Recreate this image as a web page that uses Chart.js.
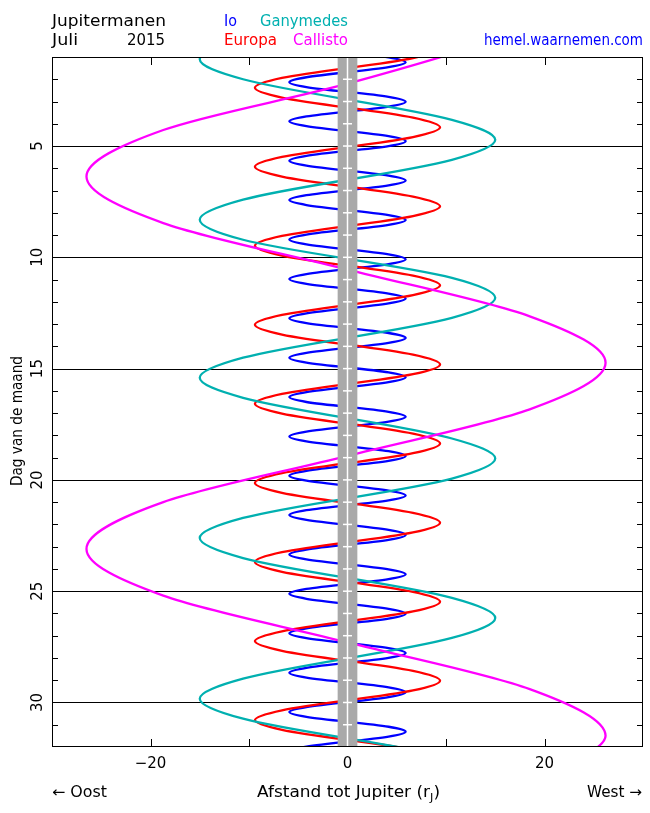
<!DOCTYPE html>
<html>
<head>
<meta charset="utf-8">
<script src="https://cdn.jsdelivr.net/npm/chart.js@4.4.1/dist/chart.umd.min.js"></script>
<style>html,body{margin:0;padding:0;background:#fff}canvas{display:block}</style>
</head>
<body>
<canvas id="c" width="650" height="813"></canvas>
<script>
// ---- axis ranges & tick labels ----
const xRange = [-30, 30];
const dayRange = [1, 32];
const xTicks = [-20, -10, 0, 10, 20];
const xTickLabels = [-20, 0, 20];
const dayTickLabels = [5, 10, 15, 20, 25, 30];
const jupiterDisk = [-1, 1];

// ---- moon positions (day of month, distance in r_J) ----
const ioDays = [0.14, 0.36, 0.58, 1.02, 1.24, 1.46, 1.91, 2.13, 2.35, 2.79, 3.01, 3.23, 3.67, 3.89, 4.11, 4.56, 4.78, 5.00, 5.44, 5.66, 5.88, 6.33, 6.55, 6.77, 7.21, 7.43, 7.65, 8.10, 8.32, 8.54, 8.98, 9.20, 9.42, 9.87, 10.09, 10.31, 10.75, 10.97, 11.19, 11.63, 11.85, 12.07, 12.52, 12.74, 12.96, 13.40, 13.62, 13.84, 14.29, 14.51, 14.73, 15.17, 15.39, 15.61, 16.06, 16.28, 16.50, 16.94, 17.16, 17.38, 17.83, 18.05, 18.27, 18.71, 18.93, 19.15, 19.59, 19.81, 20.03, 20.48, 20.70, 20.92, 21.36, 21.58, 21.80, 22.25, 22.47, 22.69, 23.13, 23.35, 23.57, 24.02, 24.24, 24.46, 24.90, 25.12, 25.34, 25.79, 26.01, 26.23, 26.67, 26.89, 27.11, 27.56, 27.78, 28.00, 28.44, 28.66, 28.88, 29.32, 29.54, 29.76, 30.21, 30.43, 30.65, 31.09, 31.31, 31.53, 31.98, 32.20, 32.42];
const ioPos = [
 -4.17, -5.9, -4.17, 4.17, 5.9, 4.17,
 -4.17, -5.9, -4.17, 4.17, 5.9, 4.17,
 -4.17, -5.9, -4.17, 4.17, 5.9, 4.17,
 -4.17, -5.9, -4.17, 4.17, 5.9, 4.17,
 -4.17, -5.9, -4.17, 4.17, 5.9, 4.17,
 -4.17, -5.9, -4.17, 4.17, 5.9, 4.17,
 -4.17, -5.9, -4.17, 4.17, 5.9, 4.17,
 -4.17, -5.9, -4.17, 4.17, 5.9, 4.17,
 -4.17, -5.9, -4.17, 4.17, 5.9, 4.17,
 -4.17, -5.9, -4.17, 4.17, 5.9, 4.17,
 -4.17, -5.9, -4.17, 4.17, 5.9, 4.17,
 -4.17, -5.9, -4.17, 4.17, 5.9, 4.17,
 -4.17, -5.9, -4.17, 4.17, 5.9, 4.17,
 -4.17, -5.9, -4.17, 4.17, 5.9, 4.17,
 -4.17, -5.9, -4.17, 4.17, 5.9, 4.17,
 -4.17, -5.9, -4.17, 4.17, 5.9, 4.17,
 -4.17, -5.9, -4.17, 4.17, 5.9, 4.17,
 -4.17, -5.9, -4.17, 4.17, 5.9, 4.17,
 -4.17, -5.9, -4.17];

const europaDays = [0.61, 1.05, 1.94, 2.38, 2.82, 3.72, 4.16, 4.60, 5.49, 5.93, 6.37, 7.27, 7.71, 8.15, 9.04, 9.48, 9.92, 10.82, 11.26, 11.70, 12.59, 13.03, 13.47, 14.37, 14.81, 15.25, 16.14, 16.58, 17.02, 17.92, 18.36, 18.80, 19.70, 20.14, 20.58, 21.48, 21.92, 22.36, 23.25, 23.69, 24.13, 25.03, 25.47, 25.91, 26.80, 27.24, 27.68, 28.58, 29.02, 29.46, 30.35, 30.79, 31.23, 32.13, 32.57];
const europaPos = [9.4, 6.65,
 -6.65, -9.4, -6.65, 6.65, 9.4, 6.65,
 -6.65, -9.4, -6.65, 6.65, 9.4, 6.65,
 -6.65, -9.4, -6.65, 6.65, 9.4, 6.65,
 -6.65, -9.4, -6.65, 6.65, 9.4, 6.65,
 -6.65, -9.4, -6.65, 6.65, 9.4, 6.65,
 -6.65, -9.4, -6.65, 6.65, 9.4, 6.65,
 -6.65, -9.4, -6.65, 6.65, 9.4, 6.65,
 -6.65, -9.4, -6.65, 6.65, 9.4, 6.65,
 -6.65, -9.4, -6.65, 6.65, 9.4];

const ganymedeDays = [-2.5, -1.6, 0.2, 1.1, 2.0, 3.82, 4.72, 5.62, 7.41, 8.31, 9.21, 10.92, 11.82, 12.72, 14.51, 15.41, 16.31, 18.14, 19.04, 19.94, 21.71, 22.61, 23.51, 25.3, 26.2, 27.1, 28.93, 29.83, 30.73, 32.5, 33.4];
const ganymedePos = [15, 10.6, -10.6, -15, -10.6, 10.6, 15, 10.6, -10.6, -15, -10.6, 10.6, 15, 10.6, -10.6, -15, -10.6, 10.6, 15, 10.6, -10.6, -15, -10.6, 10.6, 15, 10.6, -10.6, -15, -10.6, 10.6, 15];

const callistoDays = [-1.95, 0.14, 2.2, 4.28, 6.37, 8.46, 10.55, 12.65, 14.74, 16.83, 18.92, 21.0, 23.1, 25.2, 27.3, 29.4, 31.5, 33.6];
const callistoPos = [26.2, 15.5, 0, -18.7, -26.5, -18.7, 0, 18.5, 26.2, 18.5, 0, -18.7, -26.5, -18.7, 0, 18.5, 26.2, 18.5];

const COL = {io:'#0000ff', europa:'#ff0000', ganymede:'#00b0b0', callisto:'#ff00ff', site:'#0000ff', gray:'#a9a9a9'};
const FONT = '"DejaVu Sans", "Liberation Sans", sans-serif';

function series(label, days, pos, color){
  return {label, data: days.map((d,i)=>({x: pos[i], y: d})), borderColor: color,
    borderWidth: 2.3, pointRadius: 0, fill: false, cubicInterpolationMode: 'monotone', tension: 0};
}

function stretchText(ctx, s, x, base, w, color, size){
  ctx.save();
  ctx.font = (size||15) + 'px ' + FONT;
  ctx.fillStyle = color;
  ctx.textAlign = 'left';
  ctx.textBaseline = 'alphabetic';
  const m = ctx.measureText(s).width;
  ctx.translate(x, base);
  if (w) ctx.scale(w/m, 1);
  ctx.fillText(s, 0, 0);
  ctx.restore();
}

const deco = {
  id: 'deco',
  beforeDatasetsDraw(chart){
    const {ctx, chartArea: a, scales: {x, y}} = chart;
    ctx.save();
    ctx.strokeStyle = '#000'; ctx.lineWidth = 1;
    dayTickLabels.forEach(d => {
      const py = Math.round(y.getPixelForValue(d)) + 0.5;
      ctx.beginPath(); ctx.moveTo(a.left, py); ctx.lineTo(a.right, py); ctx.stroke();
    });
    ctx.restore();
  },
  afterDatasetsDraw(chart){
    const {ctx, chartArea: a, scales: {x, y}} = chart;
    ctx.save();
    // Jupiter band
    const bx0 = x.getPixelForValue(jupiterDisk[0]), bx1 = x.getPixelForValue(jupiterDisk[1]);
    ctx.fillStyle = COL.gray;
    ctx.fillRect(bx0, a.top, bx1 - bx0, a.bottom - a.top);
    const cx = x.getPixelForValue(0);
    ctx.strokeStyle = '#fff'; ctx.lineWidth = 1.5;
    ctx.beginPath(); ctx.moveTo(cx, a.top); ctx.lineTo(cx, a.bottom); ctx.stroke();
    for (let d = dayRange[0]; d <= dayRange[1]; d++){
      const py = y.getPixelForValue(d);
      ctx.beginPath(); ctx.moveTo(x.getPixelForValue(-0.46), py); ctx.lineTo(x.getPixelForValue(0.46), py); ctx.stroke();
    }
    // border
    ctx.strokeStyle = '#000'; ctx.lineWidth = 1;
    ctx.strokeRect(a.left + 0.5, a.top + 0.5, a.right - a.left - 1, a.bottom - a.top - 1);
    // day ticks both sides
    ctx.beginPath();
    for (let d = dayRange[0] + 1; d < dayRange[1]; d++){
      const py = Math.round(y.getPixelForValue(d)) + 0.5;
      ctx.moveTo(a.left, py); ctx.lineTo(a.left + 6, py);
      ctx.moveTo(a.right - 6, py); ctx.lineTo(a.right, py);
    }
    // x ticks top and bottom
    xTicks.forEach(v => {
      if (v === 0) return;
      const px = Math.round(x.getPixelForValue(v)) + 0.5;
      ctx.moveTo(px, a.top); ctx.lineTo(px, a.top + 8);
      ctx.moveTo(px, a.bottom - 8); ctx.lineTo(px, a.bottom);
    });
    ctx.stroke();

    // x tick labels
    ctx.font = '15px ' + FONT; ctx.fillStyle = '#000'; ctx.textAlign = 'center'; ctx.textBaseline = 'alphabetic';
    xTickLabels.forEach(v => {
      const s = v < 0 ? '\u2212' + Math.abs(v) : String(v);
      ctx.fillText(s, x.getPixelForValue(v), a.bottom + 21);
    });
    // y tick labels (rotated)
    dayTickLabels.forEach(d => {
      ctx.save();
      ctx.translate(a.left - 10, y.getPixelForValue(d));
      ctx.rotate(-Math.PI/2);
      ctx.textAlign = 'center';
      ctx.fillText(String(d), 0, 0);
      ctx.restore();
    });
    // y title
    ctx.save();
    ctx.translate(22, 421);
    ctx.rotate(-Math.PI/2);
    const tw = ctx.measureText('Dag van de maand').width;
    ctx.scale(130/tw, 1);
    ctx.textAlign = 'center';
    ctx.fillText('Dag van de maand', 0, 0);
    ctx.restore();
    ctx.restore();

    // header texts
    stretchText(ctx, 'Jupitermanen', 52, 26, 114, '#000');
    stretchText(ctx, 'Juli', 52, 45, 26, '#000');
    stretchText(ctx, '2015', 127, 45, 38, '#000');
    stretchText(ctx, 'Io', 224, 26, 13, COL.io);
    stretchText(ctx, 'Ganymedes', 260, 26, 88, COL.ganymede);
    stretchText(ctx, 'Europa', 224, 45, 53, COL.europa);
    stretchText(ctx, 'Callisto', 293, 45, 55, COL.callisto);
    stretchText(ctx, 'hemel.waarnemen.com', 484, 45, 159, COL.site);

    // bottom texts
    stretchText(ctx, '\u2190 Oost', 52, 797, 55, '#000');
    stretchText(ctx, 'West \u2192', 587, 797, 55, '#000');
    ctx.save();
    ctx.fillStyle = '#000'; ctx.textBaseline = 'alphabetic'; ctx.textAlign = 'left';
    ctx.font = '15px ' + FONT;
    const p1 = 'Afstand tot Jupiter (r', p3 = ')';
    const w1 = ctx.measureText(p1).width, w3 = ctx.measureText(p3).width;
    ctx.font = '10px ' + FONT;
    const w2 = ctx.measureText('J').width;
    const sc = 183 / (w1 + w2 + w3);
    ctx.translate(257, 797); ctx.scale(sc, 1);
    ctx.font = '15px ' + FONT; ctx.fillText(p1, 0, 0);
    ctx.font = '10px ' + FONT; ctx.fillText('J', w1, 4);
    ctx.font = '15px ' + FONT; ctx.fillText(p3, w1 + w2, 0);
    ctx.restore();
  }
};

new Chart(document.getElementById('c'), {
  type: 'line',
  data: { datasets: [
    series('Callisto', callistoDays, callistoPos, COL.callisto),
    series('Ganymedes', ganymedeDays, ganymedePos, COL.ganymede),
    series('Europa', europaDays, europaPos, COL.europa),
    series('Io', ioDays, ioPos, COL.io)
  ]},
  options: {
    indexAxis: 'y',
    responsive: false,
    animation: false,
    devicePixelRatio: 1,
    layout: { padding: { left: 52, right: 7, top: 57, bottom: 66 } },
    elements: { line: { capBezierPoints: false } },
    plugins: { legend: { display: false }, tooltip: { enabled: false } },
    scales: {
      x: { type: 'linear', min: xRange[0], max: xRange[1], display: false },
      y: { type: 'linear', min: dayRange[0], max: dayRange[1], reverse: true, display: false }
    }
  },
  plugins: [deco]
});
</script>
</body>
</html>
